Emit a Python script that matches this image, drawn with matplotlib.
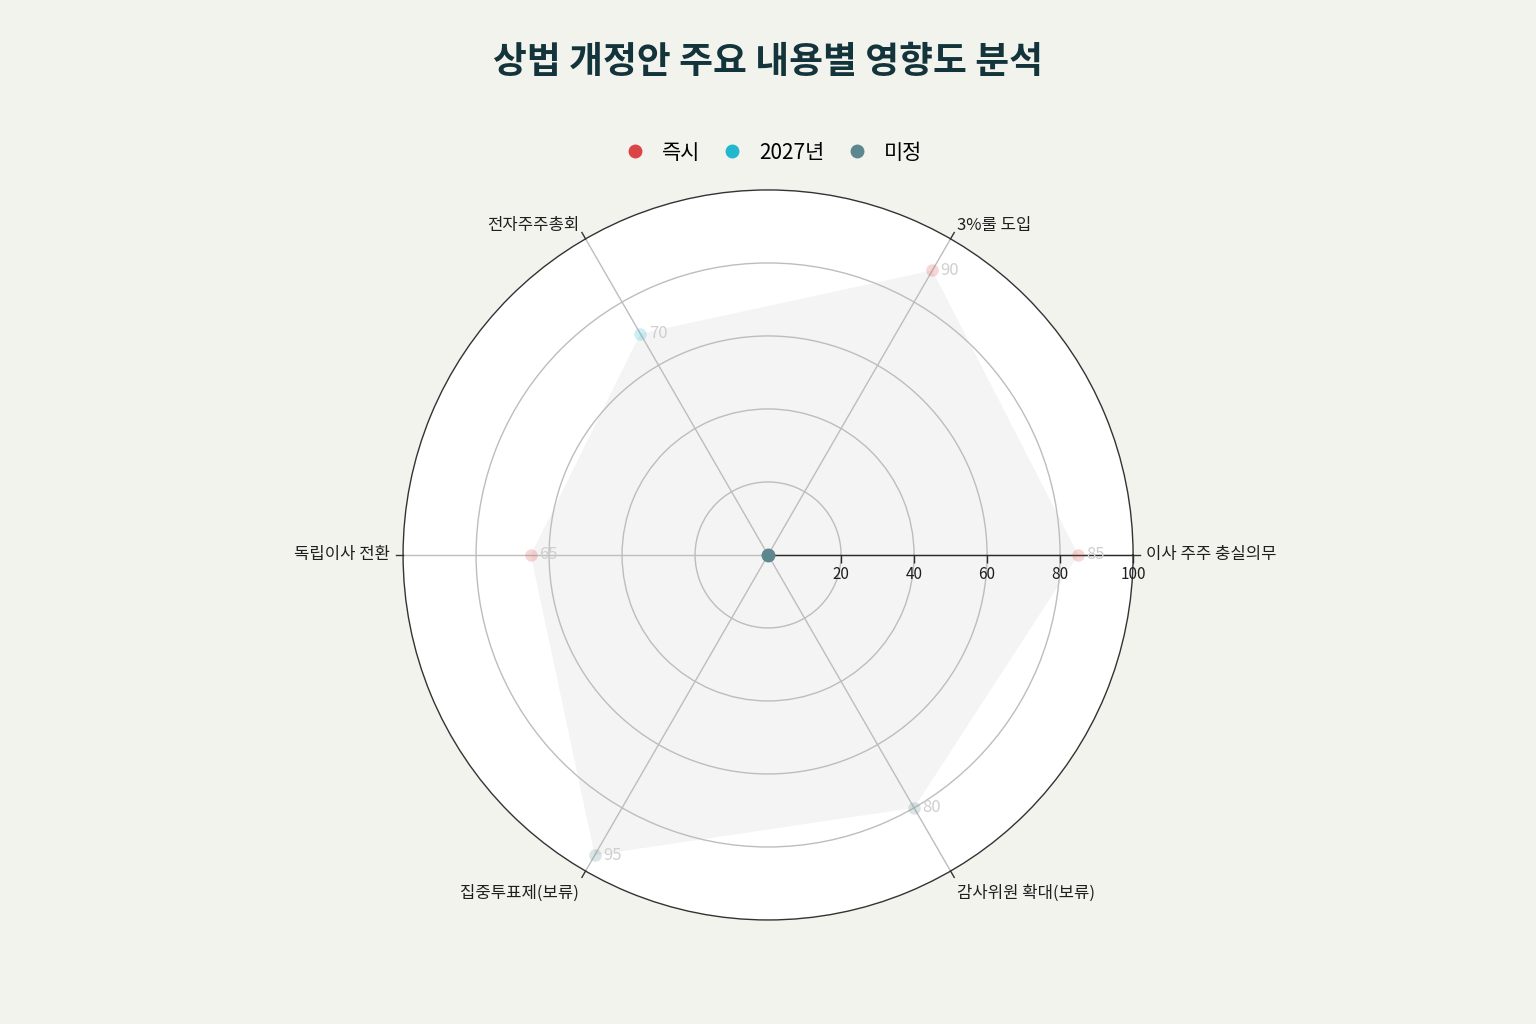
import numpy as np
import matplotlib
matplotlib.use('Agg')
import matplotlib.pyplot as plt
from matplotlib.lines import Line2D

plt.rcParams['font.family'] = ['Noto Sans CJK KR', 'DejaVu Sans']

# 데이터
categories = ['이사 주주 충실의무', '3%룰 도입', '전자주주총회', '독립이사 전환',
              '집중투표제(보류)', '감사위원 확대(보류)']
values = [85, 90, 70, 65, 95, 80]
timing = ['즉시', '즉시', '2027년', '즉시', '미정', '미정']
groups = ['즉시', '2027년', '미정']
group_colors = {'즉시': '#DB4545', '2027년': '#1FB8CD', '미정': '#5D878F'}
r_ticks = [20, 40, 60, 80, 100]

bg = '#F3F3EE'
fig = plt.figure(figsize=(15.36, 10.24), dpi=100, facecolor=bg)
ax = fig.add_axes([0.2624, 0.1016, 0.4753, 0.7129], projection='polar')
ax.set_facecolor('white')

angles = np.deg2rad(np.arange(len(categories)) * 60.0)

# 채움 영역
ax.fill(np.append(angles, angles[0]), values + [values[0]],
        facecolor='#F4F4F4', edgecolor='none', zorder=1)

# 그리드
ax.set_ylim(0, 100)
ax.set_yticks(r_ticks[:-1])
ax.set_yticklabels([])
ax.set_xticks(angles)
ax.set_xticklabels([])
ax.grid(True, color='#BDBDBD', linewidth=1.0)
ax.spines['polar'].set_color('#333333')
ax.spines['polar'].set_linewidth(1.0)
ax.tick_params(axis='both', length=0)

# 반지름 축 (0도)
ax.plot([0, 0], [0, 100], color='#2A2A2A', linewidth=1.0, zorder=3)
ax.plot([0] * len(r_ticks), r_ticks, ls='', marker=3, markersize=6,
        color='#2A2A2A', markeredgewidth=1.0, zorder=3, clip_on=False)
for r in r_ticks:
    ax.annotate(str(r), xy=(0, r), xytext=(0, -14), textcoords='offset points',
                ha='center', va='center', fontsize=11, color='#1F1F1F')

# 각도 눈금 및 라벨
offsets = {0: (4, 0, 'left', 'center'), 1: (2, -1, 'left', 'bottom'),
           2: (-2, -1, 'right', 'bottom'), 3: (-4, 0, 'right', 'center'),
           4: (-2, -5, 'right', 'top'), 5: (2, -5, 'left', 'top')}
for i, (a, lab) in enumerate(zip(angles, categories)):
    ax.plot([a, a], [100, 102], color='#333333', linewidth=1.0, clip_on=False)
    dx, dy, ha, va = offsets[i]
    ax.annotate(lab, xy=(a, 102), xytext=(dx, dy), textcoords='offset points',
                ha=ha, va=va, fontsize=12, color='#1F1F1F', annotation_clip=False)

# 포인트
for a, v, t in zip(angles, values, timing):
    ax.plot(a, v, 'o', markersize=9, color=group_colors[t], alpha=0.22,
            markeredgewidth=0, zorder=4)
    ax.annotate(str(v), xy=(a, v), xytext=(6, 0), textcoords='offset points',
                ha='left', va='center', fontsize=12, color='#CFCFCF', zorder=4)

# 중심점
ax.plot(0, 0, 'o', markersize=9, color=group_colors['미정'], zorder=5)

# 제목과 범례
fig.text(0.5, 0.939, '상법 개정안 주요 내용별 영향도 분석', ha='center', va='center',
         fontsize=26.5, fontweight='bold', color='#13343B')
handles = [Line2D([], [], ls='', marker='o', markersize=9, color=group_colors[g])
           for g in groups]
fig.legend(handles, groups, loc='center', bbox_to_anchor=(0.5, 0.851), ncol=3,
           frameon=False, fontsize=15, handletextpad=0.3, columnspacing=0.55)

fig.savefig('out.png', dpi=100, facecolor=bg)
